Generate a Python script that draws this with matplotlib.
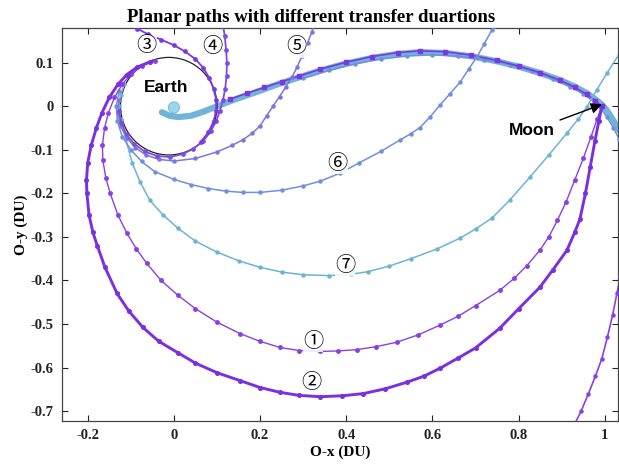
import matplotlib
matplotlib.use("Agg")
import matplotlib.pyplot as plt
from matplotlib.patches import Circle
import numpy as np

plt.rcParams['font.family'] = ['Liberation Serif', 'DejaVu Sans']
plt.rcParams['font.weight'] = 'bold'

# transfer paths in the Earth-Moon rotating frame (DU)
path1_x = [-0.045, -0.075, -0.1, -0.12, -0.138, -0.152, -0.161, -0.166, -0.165, -0.158, -0.148, -0.13, -0.109,
           -0.087, -0.063, -0.03, 0.009, 0.05, 0.1, 0.153, 0.2, 0.246, 0.29, 0.339, 0.38, 0.424, 0.47, 0.517,
           0.567, 0.617, 0.66, 0.7, 0.756, 0.79, 0.819, 0.849, 0.87, 0.89, 0.91, 0.93, 0.95, 0.968, 0.982, 0.993]
path1_y = [0.104, 0.092, 0.073, 0.05, 0.02, -0.015, -0.05, -0.09, -0.124, -0.165, -0.2, -0.25, -0.292,
           -0.328, -0.361, -0.4, -0.434, -0.465, -0.496, -0.522, -0.54, -0.554, -0.561, -0.563, -0.562, -0.559,
           -0.552, -0.542, -0.525, -0.503, -0.482, -0.458, -0.423, -0.395, -0.366, -0.331, -0.3, -0.262, -0.22,
           -0.17, -0.12, -0.07, -0.03, 0.0]

path2_x = [-0.055, -0.085, -0.11, -0.13, -0.15, -0.167, -0.18, -0.192, -0.2, -0.203, -0.202, -0.197, -0.188,
           -0.178, -0.16, -0.132, -0.105, -0.072, -0.035, 0.009, 0.05, 0.1, 0.153, 0.2, 0.246, 0.29, 0.339,
           0.39, 0.439, 0.49, 0.54, 0.58, 0.617, 0.66, 0.7, 0.756, 0.8, 0.849, 0.88, 0.912, 0.93, 0.942, 0.955,
           0.966, 0.977, 0.986, 0.993]
path2_y = [0.102, 0.09, 0.072, 0.05, 0.02, -0.015, -0.05, -0.09, -0.13, -0.17, -0.2, -0.25, -0.29, -0.32,
           -0.37, -0.43, -0.47, -0.508, -0.54, -0.566, -0.59, -0.612, -0.63, -0.646, -0.657, -0.664, -0.667,
           -0.665, -0.66, -0.649, -0.634, -0.62, -0.602, -0.578, -0.555, -0.51, -0.465, -0.416, -0.375, -0.331,
           -0.29, -0.26, -0.2, -0.14, -0.08, -0.035, 0.0]

path3_x = [-0.105, -0.085, -0.06, -0.03, 0.0, 0.025, 0.05, 0.068, 0.082, 0.092, 0.098, 0.098, 0.092, 0.08,
           0.062]
path3_y = [0.19, 0.178, 0.165, 0.153, 0.14, 0.126, 0.108, 0.088, 0.065, 0.04, 0.015, -0.01, -0.035, -0.06,
           -0.082]

path4_x = [0.114, 0.118, 0.121, 0.123, 0.122, 0.119, 0.114, 0.107, 0.098, 0.085, 0.068, 0.045, 0.02, -0.01,
           -0.04, -0.068, -0.092, -0.11, -0.122, -0.128]
path4_y = [0.186, 0.16, 0.13, 0.1, 0.07, 0.04, 0.015, -0.01, -0.035, -0.058, -0.08, -0.098, -0.11, -0.117,
           -0.114, -0.104, -0.087, -0.065, -0.038, -0.01]

path5_x = [-0.128, -0.13, -0.124, -0.11, -0.09, -0.065, -0.035, 0.0, 0.05, 0.1, 0.135, 0.16, 0.182, 0.2,
           0.215, 0.23, 0.245, 0.26, 0.274, 0.286, 0.297, 0.31, 0.32, 0.326]
path5_y = [0.015, -0.015, -0.045, -0.072, -0.095, -0.112, -0.122, -0.126, -0.12, -0.105, -0.09, -0.077,
           -0.062, -0.045, -0.022, 0.0, 0.022, 0.045, 0.067, 0.09, 0.115, 0.145, 0.17, 0.19]

path6_x = [-0.127, -0.134, -0.131, -0.12, -0.1, -0.075, -0.045, 0.0, 0.04, 0.08, 0.12, 0.16, 0.2, 0.25, 0.3,
           0.34, 0.385, 0.43, 0.48, 0.524, 0.55, 0.571, 0.595, 0.617, 0.64, 0.664, 0.684, 0.703, 0.72, 0.738,
           0.742]
path6_y = [0.035, 0.0, -0.035, -0.07, -0.1, -0.127, -0.15, -0.168, -0.18, -0.189, -0.195, -0.198, -0.198,
           -0.193, -0.183, -0.172, -0.154, -0.13, -0.104, -0.078, -0.063, -0.049, -0.024, 0.002, 0.028, 0.055,
           0.085, 0.113, 0.143, 0.175, 0.185]

path7_x = [-0.115, -0.124, -0.128, -0.124, -0.112, -0.097, -0.078, -0.056, -0.025, 0.009, 0.05, 0.1, 0.15,
           0.2, 0.25, 0.3, 0.36, 0.41, 0.45, 0.5, 0.55, 0.61, 0.664, 0.7, 0.738, 0.78, 0.826, 0.87, 0.912,
           0.938, 0.958, 0.981, 1.005, 1.04]
path7_y = [0.05, 0.025, 0.0, -0.03, -0.075, -0.13, -0.175, -0.216, -0.25, -0.28, -0.31, -0.335, -0.355,
           -0.37, -0.381, -0.387, -0.389, -0.386, -0.38, -0.367, -0.35, -0.328, -0.303, -0.282, -0.257, -0.215,
           -0.163, -0.112, -0.062, -0.03, -0.002, 0.037, 0.076, 0.13]

# shared leg from near Earth around to the Moon
leg_x = [-0.028, -0.01, 0.01, 0.04, 0.07, 0.1, 0.14, 0.19, 0.24, 0.29, 0.34, 0.4, 0.466, 0.52, 0.571, 0.63,
         0.694, 0.75, 0.803, 0.85, 0.896, 0.93, 0.958, 0.978, 0.993, 1.005, 1.018, 1.033]
leg_y = [-0.014, -0.022, -0.025, -0.022, -0.012, 0.0, 0.015, 0.032, 0.05, 0.066, 0.082, 0.098, 0.112, 0.12,
         0.124, 0.122, 0.114, 0.103, 0.09, 0.076, 0.06, 0.045, 0.03, 0.016, 0.004, -0.01, -0.03, -0.055]

leg_purple_x = [0.13, 0.17, 0.21, 0.25, 0.29, 0.34, 0.4, 0.46, 0.52, 0.57, 0.63, 0.69, 0.75, 0.8, 0.85,
                0.895, 0.93, 0.958, 0.978, 0.993]
leg_purple_y = [0.016, 0.03, 0.043, 0.056, 0.069, 0.085, 0.101, 0.114, 0.123, 0.127, 0.125, 0.117, 0.105,
                0.092, 0.077, 0.06, 0.044, 0.027, 0.013, 0.0]

leg_blue_x = [0.3, 0.36, 0.42, 0.48, 0.54, 0.6, 0.66, 0.72, 0.78, 0.83, 0.88, 0.92, 0.95, 0.975, 0.99,
              1.005, 1.02, 1.033]
leg_blue_y = [0.064, 0.082, 0.097, 0.108, 0.115, 0.118, 0.115, 0.107, 0.095, 0.081, 0.063, 0.045, 0.028,
              0.01, -0.005, -0.025, -0.05, -0.075]

tail_x = [0.925, 0.945, 0.962, 0.978, 0.993, 1.006, 1.018, 1.028, 1.036]
tail_y = [-0.74, -0.7, -0.66, -0.62, -0.58, -0.53, -0.48, -0.43, -0.39]

labels = ['①', '②', '③', '④', '⑤', '⑥', '⑦']
label_x = [0.323, 0.32, -0.063, 0.09, 0.285, 0.38, 0.397]
label_y = [-0.54, -0.634, 0.14, 0.136, 0.136, -0.131, -0.366]

earth_x, earth_y, parking_r = -0.012, 0.0, 0.112
moon_x, moon_y = 0.993, 0.004

c1, c2, c3, c4 = '#8a3fe6', '#7a2fe0', '#7b38e2', '#7f4ce0'
c5, c6, c7, c_leg = '#7a76dc', '#6f90dc', '#6cb4d6', '#72b4d8'

fig = plt.figure(figsize=(6.19, 4.71), dpi=100)
ax = fig.add_axes([0.1, 0.106, 0.898, 0.835])

ax.plot(leg_x, leg_y, color=c_leg, lw=4.5, solid_capstyle='round', zorder=2)
ax.plot(leg_blue_x, leg_blue_y, color=c6, lw=1.1, marker='o', ms=2.2, zorder=3)
ax.plot(leg_purple_x, leg_purple_y, color=c3, lw=1.2, marker='s', ms=2.5, zorder=3)

ax.plot(path7_x, path7_y, color=c7, lw=1.1, marker='o', ms=2.2, zorder=3)
ax.plot(path6_x, path6_y, color=c6, lw=1.1, marker='o', ms=2.2, zorder=3)
ax.plot(path5_x, path5_y, color=c5, lw=1.1, marker='o', ms=2.2, zorder=3)
ax.plot(path4_x, path4_y, color=c4, lw=1.3, marker='o', ms=2.4, zorder=3)
ax.plot(path3_x, path3_y, color=c3, lw=1.3, marker='o', ms=2.4, zorder=3)
ax.plot(path1_x, path1_y, color=c1, lw=1.0, marker='o', ms=2.5, zorder=3)
ax.plot(path2_x, path2_y, color=c2, lw=2.1, marker='o', ms=2.6, zorder=3)
ax.plot(tail_x, tail_y, color=c1, lw=1.2, marker='o', ms=2.2, zorder=3)

ax.add_patch(Circle((earth_x, earth_y), parking_r, fill=False, ec='#222222', lw=0.9, zorder=2))
ax.add_patch(Circle((0.0, -0.003), 0.013, fc='#8fd3ea', ec='#5fb0d0', lw=0.6, alpha=0.9, zorder=4))

for t, lx, ly in zip(labels, label_x, label_y):
    ax.text(lx, ly, t, ha='center', va='center', fontsize=14.5, fontweight='normal',
            family=['Noto Sans CJK SC', 'DejaVu Sans'], zorder=5,
            bbox=dict(fc='white', ec='none', pad=0.1, alpha=0.85))

ax.text(-0.018, 0.043, 'Earth', ha='center', va='center', fontsize=12.5, fontweight='bold',
        family='Liberation Sans', zorder=5)
ax.annotate('Moon', xy=(moon_x, moon_y), xytext=(0.83, -0.056), ha='center', va='center',
            fontsize=12.5, fontweight='bold', family='Liberation Sans', zorder=6,
            arrowprops=dict(arrowstyle='-|>', color='black', lw=1.0, mutation_scale=16,
                            shrinkA=2, shrinkB=0))

ax.set_xlim(-0.26, 1.03)
ax.set_ylim(-0.723, 0.18)
ax.set_xticks(np.arange(-0.2, 1.01, 0.2))
ax.set_xticklabels(['-0.2', '0', '0.2', '0.4', '0.6', '0.8', '1'])
ax.set_yticks(np.arange(-0.7, 0.11, 0.1))
ax.set_yticklabels(['-0.7', '-0.6', '-0.5', '-0.4', '-0.3', '-0.2', '-0.1', '0', '0.1'])
ax.tick_params(direction='in', top=True, right=True, length=4, width=0.8, labelsize=10.5,
               colors='#222222', pad=6)
for s in ax.spines.values():
    s.set_color('#444444')
    s.set_linewidth(0.9)

fig.text(0.503, 0.962, 'Planar paths with different transfer duartions', ha='center', va='center',
         fontsize=13.5, fontweight='bold')
ax.set_xlabel('O-x (DU)', fontsize=11, fontweight='bold', labelpad=2)
ax.set_ylabel('O-y (DU)', fontsize=11, fontweight='bold', labelpad=2)

fig.savefig('out.png', dpi=100)
